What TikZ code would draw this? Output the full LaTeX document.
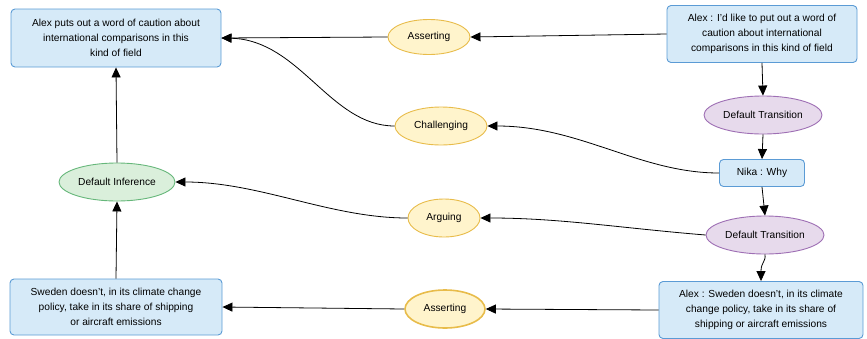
\documentclass[tikz,border=0pt]{standalone}
\usepackage{fontspec}
\setmainfont{Liberation Sans}
\usetikzlibrary{arrows.meta,shapes.geometric}
\definecolor{bfill}{HTML}{D6EAF8}
\definecolor{bdraw}{HTML}{5B9BD5}
\definecolor{yfill}{HTML}{FFF4CC}
\definecolor{ydraw}{HTML}{E8BC4A}
\definecolor{pfill}{HTML}{E7DAEC}
\definecolor{pdraw}{HTML}{9E6FB4}
\definecolor{gfill}{HTML}{DAEFDB}
\definecolor{gdraw}{HTML}{66B77A}
\tikzset{
  x=1pt,y=-1pt,
  every node/.style={font=\fontsize{10.2}{15}\selectfont, align=center, inner sep=0pt},
  box/.style={draw=bdraw, fill=bfill, rounded corners=4pt, line width=0.9pt},
  yell/.style={ellipse, draw=ydraw, fill=yfill, line width=0.9pt},
  purp/.style={ellipse, draw=pdraw, fill=pfill, line width=0.9pt},
  gren/.style={ellipse, draw=gdraw, fill=gfill, line width=0.9pt},
  conn/.style={-{Triangle[length=10pt,width=9pt]}, line width=0.8pt, black},
}
\begin{document}
\begin{tikzpicture}
\useasboundingbox (0,0) rectangle (867,338);
% boxes
\node[box, minimum width=210pt, minimum height=58pt] (a1) at (116,38) {Alex puts out a word of caution about\\international comparisons in this\\kind of field};
\node[box, minimum width=190pt, minimum height=57pt] (x1) at (762,34) {Alex : I'd like to put out a word of\\caution about international\\comparisons in this kind of field};
\node[box, minimum width=85pt, minimum height=27pt] (nika) at (762,173) {Nika : Why};
\node[box, minimum width=212pt, minimum height=56pt] (sw) at (116,307) {Sweden doesn't, in its climate change\\policy, take in its share of shipping\\or aircraft emissions};
\node[box, minimum width=204pt, minimum height=57pt] (x2) at (761,310) {Alex : Sweden doesn't, in its climate\\change policy, take in its share of\\shipping or aircraft emissions};
% ellipses
\node[yell, minimum width=82pt, minimum height=35pt] (as1) at (429,37) {Asserting};
\node[yell, minimum width=92pt, minimum height=38pt] (ch) at (441,126) {Challenging};
\node[yell, minimum width=72pt, minimum height=38pt] (ar) at (444,218) {Arguing};
\node[yell, line width=1.6pt, minimum width=80pt, minimum height=38pt] (as2) at (445,309) {Asserting};
\node[purp, minimum width=118pt, minimum height=38pt] (dt1) at (763,115) {Default Transition};
\node[purp, minimum width=118pt, minimum height=38pt] (dt2) at (765,235) {Default Transition};
\node[gren, minimum width=116pt, minimum height=38pt] (di) at (117,182) {Default Inference};
% connectors
\draw[conn] (as1.west) -- (a1.east);
\draw[conn] (x1.west) -- (as1.east);
\draw[conn] (ch.west) .. controls (330,126) and (300,40) .. (a1.east);
\draw[conn] (nika.west) .. controls (640,173) and (580,126) .. (ch.east);
\draw[conn] (x1.south) -- (dt1.north);
\draw[conn] (dt1.south) -- (nika.north);
\draw[conn] (nika.south) -- (dt2.north);
\draw[conn] (dt2.south) .. controls (766,262) and (761,262) .. (x2.north);
\draw[conn] (dt2.west) .. controls (620,228) and (560,218) .. (ar.east);
\draw[conn] (ar.west) .. controls (330,218) and (260,182) .. (di.east);
\draw[conn] (x2.west) -- (as2.east);
\draw[conn] (as2.west) -- (sw.east);
\draw[conn] (sw.north) -- (di.south);
\draw[conn] (di.north) -- (a1.south);
\end{tikzpicture}
\end{document}
